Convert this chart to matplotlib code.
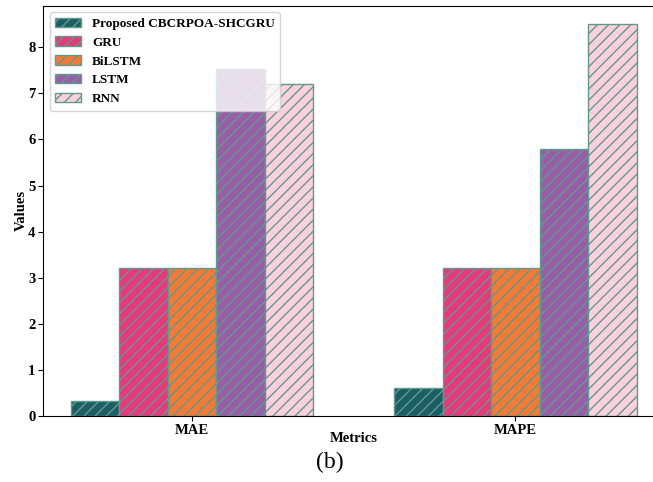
import numpy as np
import matplotlib
matplotlib.use("Agg")
import matplotlib.pyplot as plt

plt.rcParams["font.family"] = ["Liberation Serif", "DejaVu Serif"]
plt.rcParams["font.weight"] = "bold"
plt.rcParams["hatch.linewidth"] = 1.0

metrics = ["MAE", "MAPE"]
models = ["Proposed CBCRPOA-SHCGRU", "GRU", "BiLSTM", "LSTM", "RNN"]
proposed = [0.32, 0.61]
gru = [3.21, 3.21]
bilstm = [3.20, 3.22]
lstm = [7.53, 5.80]
rnn = [7.20, 8.50]
colors = ["#1b5e63", "#e8397a", "#f47a36", "#9a5ea8", "#fcd1dd"]

series = [proposed, gru, bilstm, lstm, rnn]

fig = plt.figure(figsize=(6.53, 4.82), dpi=100)
ax = fig.add_axes([0.066, 0.137, 0.951, 0.851])

x = np.arange(len(metrics))
width = 0.15
for i, (vals, name, col) in enumerate(zip(series, models, colors)):
    ax.bar(x + (i - 2) * width, vals, width, label=name, color=col,
           edgecolor="#5f9a8c", linewidth=1.0, hatch="///")

ax.set_xticks(x)
ax.set_xticklabels(metrics, fontsize=10.5, fontweight="bold")
ax.tick_params(axis="both", labelsize=10.5, pad=2)
for lbl in ax.get_yticklabels():
    lbl.set_fontweight("bold")
ax.set_xlim(-0.46, 1.46)
ax.set_ylim(0, 8.9)
ax.set_xlabel("Metrics", fontsize=10.5, fontweight="bold", labelpad=-3)
ax.set_ylabel("Values", fontsize=10.5, fontweight="bold", labelpad=0)

leg = ax.legend(loc="upper left", prop={"weight": "bold", "size": 9.5},
                labelspacing=0.5)
leg.get_frame().set_alpha(0.8)

fig.text(0.505, 0.04, "(b)", ha="center", va="center", fontsize=17,
         fontweight="normal")

fig.savefig("out.png", dpi=100)
